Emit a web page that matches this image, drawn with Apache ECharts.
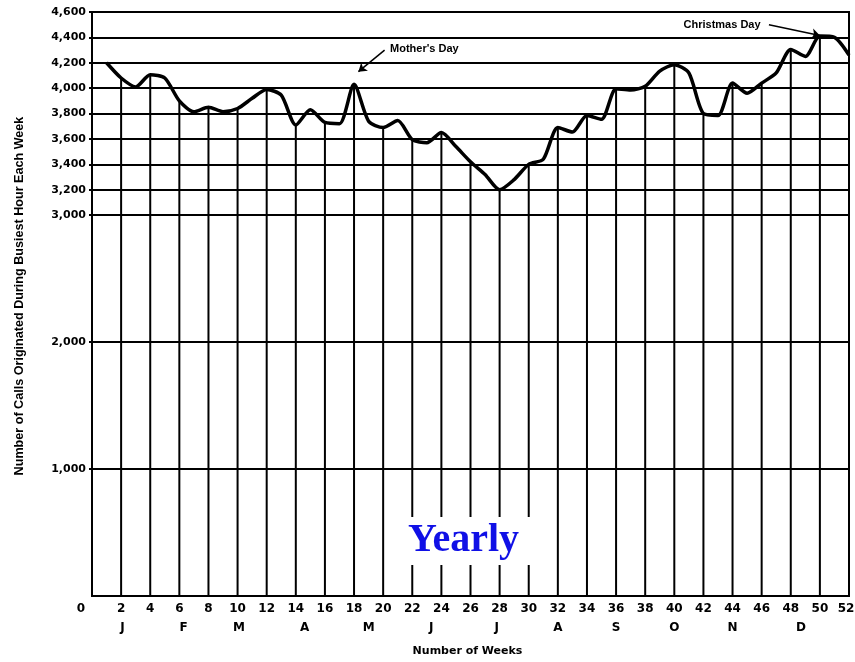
<!DOCTYPE html>
<html>
<head>
<meta charset="utf-8">
<script src="https://cdn.jsdelivr.net/npm/echarts@6/dist/echarts.min.js"></script>
<style>
  html, body { margin: 0; padding: 0; background: #fff; }
  #chart { width: 855px; height: 662px; }
</style>
</head>
<body>
<div id="chart"></div>
<script>
// ---- data ----
const weeks = [1,2,3,4,5,6,7,8,9,10,11,12,13,14,15,16,17,18,19,20,21,22,23,24,25,26,
               27,28,29,30,31,32,33,34,35,36,37,38,39,40,41,42,43,44,45,46,47,48,49,50,51,52];
const calls = [4200,4080,4010,4105,4080,3900,3815,3850,3815,3840,3920,3990,3945,3710,3830,3730,
               3720,4030,3740,3690,3745,3595,3570,3650,3540,3420,3320,3200,3280,3400,3440,3690,
               3655,3785,3755,3995,3985,4015,4135,4185,4120,3800,3785,4040,3960,4040,4120,4305,
               4250,4410,4400,4260];
const yTicks = [1000,2000,3000,3200,3400,3600,3800,4000,4200,4400,4600];
const monthLabels = ['J','F','M','A','M','J','J','A','S','O','N','D'];
const monthWeeks  = [2.1,6.3,10.1,14.6,19.0,23.3,27.8,32.0,36.0,40.0,44.0,48.7];
const annotations = [
  { text: "Mother's Day",  at: [20.2, 4310], from: [20.1, 4300], to: [18.3, 4130], side: 'right' },
  { text: 'Christmas Day', at: [46.2, 4500], from: [46.5, 4500], to: [50.0, 4415], side: 'left' }
];

const lineData = weeks.map((w, i) => [w, calls[i]]);
const dropData = weeks.map((w, i) => [w, calls[i]]).filter(d => d[0] % 2 === 0);

const BOLD = { fontFamily: 'DejaVu Sans', fontWeight: 'bold', color: '#000' };
const RICH = { fontSize: 12, fontFamily: 'DejaVu Sans', fontWeight: 'bold' };

const chart = echarts.init(document.getElementById('chart'));
chart.setOption({
  backgroundColor: '#fff',
  animation: false,
  grid: { left: 92, right: 6, top: 12, bottom: 66, outerBoundsMode: 'none', containLabel: false,
          show: true, borderColor: '#000', borderWidth: 2, backgroundColor: '#fff' },
  xAxis: [{
    type: 'value', min: 0, max: 52, interval: 2,
    name: 'Number of Weeks', nameLocation: 'middle', nameGap: 50,
    nameTextStyle: Object.assign({ fontSize: 11, padding: [0, 6, 0, 0] }, BOLD),
    axisLine: { show: true, lineStyle: { color: '#000', width: 2 } },
    axisTick: { show: false },
    splitLine: { show: false },
    axisLabel: Object.assign({
      fontSize: 12, margin: 7, showMinLabel: true, showMaxLabel: true,
      formatter: v => v === 0 ? '{z|0}' : (v === 52 ? '{e|52}' : String(v)),
      rich: {
        z: Object.assign({ padding: [0, 22, 0, 0] }, RICH),
        e: Object.assign({ padding: [0, 6, 0, 0] }, RICH)
      }
    }, BOLD)
  }, {
    type: 'value', min: 0, max: 52, position: 'bottom', offset: 20,
    axisLine: { show: false }, axisTick: { show: false }, splitLine: { show: false },
    axisLabel: Object.assign({
      fontSize: 12, margin: 6,
      customValues: monthWeeks,
      formatter: v => { const i = monthWeeks.indexOf(v); return i >= 0 ? monthLabels[i] : ''; }
    }, BOLD)
  }],
  yAxis: {
    type: 'value', min: 0, max: 4600,
    name: 'Number of Calls Originated During Busiest Hour Each Week',
    nameLocation: 'middle', nameGap: 66, nameRotate: 90,
    nameTextStyle: { fontFamily: 'Liberation Sans', fontWeight: 'bold', fontSize: 12.6, color: '#000', padding: [0, 0, 0, 16] },
    axisLine: { show: true, lineStyle: { color: '#000', width: 2 } },
    axisTick: { show: true, length: 3, customValues: yTicks, lineStyle: { color: '#000', width: 2 } },
    splitLine: { show: false },
    axisLabel: Object.assign({
      fontSize: 11, margin: 6, customValues: yTicks,
      formatter: v => v.toLocaleString('en-US')
    }, BOLD)
  },
  series: [{
    type: 'bar', data: dropData, barWidth: 2, itemStyle: { color: '#000' },
    silent: true, z: 1,
    markLine: {
      silent: true, symbol: 'none', animation: false,
      label: { show: false },
      lineStyle: { color: '#000', width: 2, type: 'solid' },
      data: yTicks.map(v => ({ yAxis: v }))
    }
  }, {
    type: 'line', data: lineData, smooth: 0.25, showSymbol: false, symbol: 'none',
    lineStyle: { color: '#000', width: 3.5 }, z: 3, silent: true,
    markLine: {
      silent: true, animation: false,
      symbol: ['none', 'arrow'], symbolSize: 8,
      label: { show: false },
      lineStyle: { color: '#000', width: 1.5, type: 'solid', curveness: 0.3 },
      data: annotations.map(a => [{ coord: a.from }, { coord: a.to }])
    },
    markPoint: {
      silent: true, animation: false, symbol: 'circle', symbolSize: 0,
      data: annotations.map(a => ({
        coord: a.at,
        label: { show: true, position: a.side, distance: 4, formatter: a.text,
                 fontFamily: 'Liberation Sans', fontWeight: 'bold', fontSize: 11, color: '#000' }
      }))
    }
  }],
  graphic: [{
    type: 'text', left: 392, top: 517, z: 100,
    style: {
      text: 'Yearly', fontFamily: 'Liberation Serif', fontWeight: 'bold', fontSize: 40,
      fill: '#1010e6', backgroundColor: '#fff', padding: [4, 16, 4, 16]
    }
  }]
});
</script>
</body>
</html>
